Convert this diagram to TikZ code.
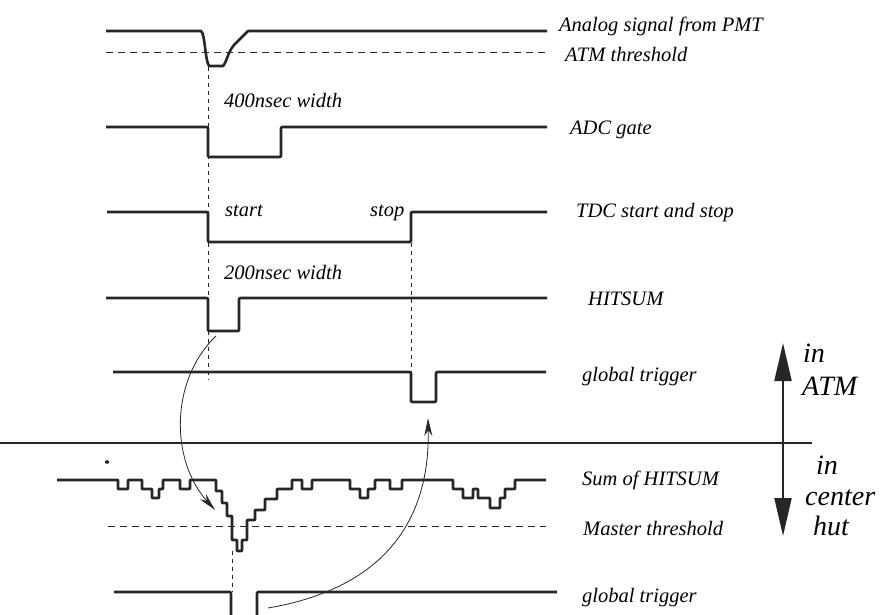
\documentclass[tikz,border=0pt]{standalone}
\usepackage{fontspec}
\setmainfont{Liberation Serif}
\usetikzlibrary{arrows.meta}
\begin{document}
\begin{tikzpicture}[x=1pt,y=-1pt,
  wave/.style={line width=2.6pt, draw=black!85, line join=round, rounded corners=1pt},
  thr/.style={line width=0.9pt, draw=black!85, dash pattern=on 7pt off 5pt},
  vdash/.style={line width=0.8pt, draw=black!85, dash pattern=on 4pt off 4pt},
  lbl/.style={font=\fontsize{20.5}{23}\selectfont\itshape, anchor=base west, inner sep=0pt},
  biglbl/.style={font=\fontsize{28}{32}\selectfont\itshape, anchor=base west, inner sep=0pt},
  curv/.style={line width=0.8pt, draw=black!85, -{Stealth[length=18pt,width=8pt]}}
]
\useasboundingbox (0,0) rectangle (880,615);

% Analog signal from PMT
\draw[wave, rounded corners=0pt] (106,31) -- (201,31) .. controls (205,33) and (205,60) .. (209,66)
  -- (223,66) .. controls (227,62) and (228,50) .. (236,43) -- (248,31) -- (547,31);
\draw[thr] (106,52) -- (547,52);
\node[lbl] (lA) at (559,32) {Analog signal from PMT};
\node[lbl] (lT) at (565,62) {ATM threshold};
\node[lbl] (w400) at (224,108) {400nsec width};

% ADC gate
\draw[wave] (106,127) -- (208,127) -- (208,157) -- (281,157) -- (281,127) -- (547,127);
\node[lbl] (lADC) at (570,135) {ADC gate};

% TDC start and stop
\draw[wave] (107,212) -- (208,212) -- (208,242) -- (411,242) -- (411,212) -- (547,212);
\node[lbl] (lTDC) at (576,217) {TDC start and stop};
\node[lbl] (lstart) at (225,216) {start};
\node[lbl] (lstop) at (370,216) {stop};
\node[lbl] (w200) at (224,279) {200nsec width};

% HITSUM
\draw[wave] (106,298) -- (208,298) -- (208,331) -- (239,331) -- (239,298) -- (547,298);
\node[lbl] (lHIT) at (588,305) {HITSUM};

% global trigger (ATM)
\draw[wave] (113,372) -- (411,372) -- (411,402) -- (436,402) -- (436,372) -- (546,372);
\node[lbl] (lGT1) at (582,381) {global trigger};

% vertical dashed lines
\draw[vdash] (208,67) -- (208,380);
\draw[vdash] (411,243) -- (411,372);

% separator
\draw[line width=2.2pt, draw=black!85] (0,443) -- (812,443);

% vertical double arrow
\coordinate (vt) at (783,343);
\coordinate (vb) at (783,536);
\draw[line width=2pt, draw=black!85, {Triangle[length=38pt,width=17pt]}-{Triangle[length=38pt,width=17pt]}] (vt) -- (vb);
\node[biglbl] (in1) at (803,362) {in};
\node[biglbl] (atm) at (802,395) {ATM};
\node[biglbl] (in2) at (816,474) {in};
\node[biglbl] (cen) at (805,505) {center};
\node[biglbl] (hut) at (813,535) {hut};

% speck
\fill[black!85] (107,462) ellipse (2.2pt and 1.8pt);

% Sum of HITSUM
\draw[wave, rounded corners=0.5pt] (57,480) -- (118,480) -- (118,489) -- (128,489) -- (128,480) -- (142,480) -- (142,489)
 -- (152,489) -- (152,498) -- (159,498) -- (159,489) -- (163,489) -- (163,480) -- (180,480) -- (180,489)
 -- (190,489) -- (190,480) -- (216,480) -- (216,491) -- (222,491) -- (222,503) -- (227,503) -- (227,516)
 -- (232,516) -- (232,540) -- (237,540) -- (237,551) -- (242,551) -- (242,540) -- (247,540) -- (247,520)
 -- (255,520) -- (255,510) -- (265,510) -- (265,499) -- (277,499) -- (277,489) -- (292,489) -- (292,480)
 -- (302,480) -- (302,489) -- (312,489) -- (312,480) -- (350,480) -- (350,489) -- (360,489) -- (360,498)
 -- (368,498) -- (368,489) -- (375,489) -- (375,480) -- (390,480) -- (390,489) -- (402,489) -- (402,480)
 -- (453,480) -- (453,489) -- (463,489) -- (463,498) -- (473,498) -- (473,489) -- (478,489) -- (478,498)
 -- (490,498) -- (490,508) -- (500,508) -- (500,498) -- (505,498) -- (505,489) -- (515,489) -- (515,480) -- (546,480);
\node[lbl] (lSUM) at (582,485) {Sum of HITSUM};
\draw[thr] (108,526) -- (546,526);
\node[lbl] (lMT) at (583,535) {Master threshold};
\draw[vdash] (232,551) -- (232,592);

% global trigger (center hut)
\draw[wave] (114,592) -- (231,592) -- (231,616);
\draw[wave] (257,616) -- (257,592) -- (557,592);
\node[lbl] (lGT2) at (582,602) {global trigger};

% curved arrows
\coordinate (c1s) at (216,336);
\coordinate (c1e) at (215,510);
\draw[curv] (c1s) .. controls (170,380) and (170,460) .. (c1e);
\coordinate (c2s) at (268,608);
\coordinate (c2e) at (428,418);
\draw[curv] (c2s) .. controls (385,588) and (430,520) .. (c2e);
\end{tikzpicture}
\end{document}
